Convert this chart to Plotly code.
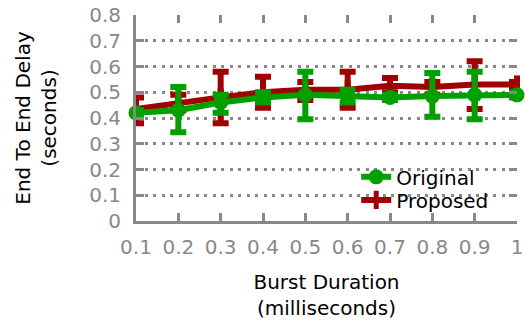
import plotly.graph_objects as go

# Burst duration (ms)
burst = [0.1, 0.2, 0.3, 0.4, 0.5, 0.6, 0.7, 0.8, 0.9, 1.0]

# End-to-end delay (s): mean and error extents
original = [0.42, 0.43, 0.46, 0.48, 0.49, 0.485, 0.48, 0.485, 0.49, 0.49]
original_hi = [0.43, 0.52, 0.49, 0.50, 0.58, 0.51, 0.49, 0.575, 0.58, 0.50]
original_lo = [0.41, 0.345, 0.42, 0.46, 0.395, 0.46, 0.47, 0.405, 0.395, 0.48]

proposed = [0.435, 0.46, 0.48, 0.50, 0.51, 0.51, 0.525, 0.52, 0.53, 0.53]
proposed_hi = [0.48, 0.49, 0.58, 0.56, 0.54, 0.58, 0.555, 0.54, 0.62, 0.54]
proposed_lo = [0.38, 0.43, 0.38, 0.44, 0.47, 0.44, 0.50, 0.49, 0.435, 0.52]

y_ticks = [0, 0.1, 0.2, 0.3, 0.4, 0.5, 0.6, 0.7, 0.8]
y_tick_text = ["0", "0.1", "0.2", "0.3", "0.4", "0.5", "0.6", "0.7", "0.8"]
x_tick_text = ["0.1", "0.2", "0.3", "0.4", "0.5", "0.6", "0.7", "0.8", "0.9", "1"]

GREEN = "#00a000"
RED = "#a00000"
GRAY = "#888888"
FONT = "DejaVu Sans"
FS = 20


def err(mean, hi, lo):
    return dict(
        type="data", symmetric=False,
        array=[h - m for h, m in zip(hi, mean)],
        arrayminus=[m - l for m, l in zip(mean, lo)],
        thickness=6, width=8,
    )


fig = go.Figure()
fig.add_trace(go.Scatter(
    x=burst, y=proposed, name="Proposed", mode="lines+markers",
    line=dict(color=RED, width=6),
    marker=dict(color=RED, size=13, symbol="line-ns-open",
                line=dict(color=RED, width=6)),
    error_y=dict(err(proposed, proposed_hi, proposed_lo), color=RED),
    cliponaxis=False, legend="legend2",
))
fig.add_trace(go.Scatter(
    x=burst, y=original, name="Original", mode="lines+markers",
    line=dict(color=GREEN, width=6),
    marker=dict(color=GREEN, size=15, symbol="circle"),
    error_y=dict(err(original, original_hi, original_lo), color=GREEN),
    cliponaxis=False, legend="legend",
))
# empty trace carrying the mirrored tick marks on top and right
fig.add_trace(go.Scatter(x=[], y=[], xaxis="x2", yaxis="y2", showlegend=False))

tick_common = dict(ticks="inside", ticklen=8, tickwidth=3, tickcolor=GRAY,
                   automargin=False)
legend_common = dict(xanchor="left", yanchor="top", bgcolor="rgba(0,0,0,0)",
                     font=dict(size=FS, color="black"), itemwidth=30)

fig.update_layout(
    width=526, height=322,
    margin=dict(l=136, r=9, t=15, b=101, autoexpand=False),
    plot_bgcolor="white", paper_bgcolor="white",
    font=dict(family=FONT, size=FS, color="black"),
    showlegend=True,
    legend=dict(x=0.578, y=0.309, **legend_common),
    legend2=dict(x=0.578, y=0.197, **legend_common),
    # white key box that breaks the grid lines behind the legend
    shapes=[dict(type="rect", xref="paper", yref="paper", layer="between",
                 x0=0.556, x1=0.961, y0=0.10, y1=0.29,
                 fillcolor="white", line=dict(width=0))],
    xaxis=dict(
        range=[0.1, 1.0], tickvals=burst, ticktext=x_tick_text,
        showline=True, linecolor=GRAY, linewidth=3,
        showgrid=False, zeroline=False,
        tickfont=dict(color=GRAY, size=FS), ticklabelstandoff=6,
        title=dict(text="Burst Duration<br>(milliseconds)", standoff=17,
                   font=dict(size=FS, color="black")),
        **tick_common,
    ),
    yaxis=dict(
        range=[0, 0.8], tickvals=y_ticks, ticktext=y_tick_text,
        showline=True, linecolor=GRAY, linewidth=3,
        showgrid=True, gridcolor=GRAY, gridwidth=3, griddash="3px,5.5px",
        zeroline=False,
        tickfont=dict(color=GRAY, size=FS), ticklabelstandoff=8,
        title=dict(text="End To End Delay<br>(seconds)", standoff=28,
                   font=dict(size=FS, color="black")),
        **tick_common,
    ),
    xaxis2=dict(
        overlaying="x", side="top", range=[0.1, 1.0], tickvals=burst,
        showticklabels=False, showline=False, showgrid=False, zeroline=False,
        **tick_common,
    ),
    yaxis2=dict(
        overlaying="y", side="right", range=[0, 0.8], tickvals=y_ticks,
        showticklabels=False, showline=False, showgrid=False, zeroline=False,
        **tick_common,
    ),
)

fig.write_html("out.html")
